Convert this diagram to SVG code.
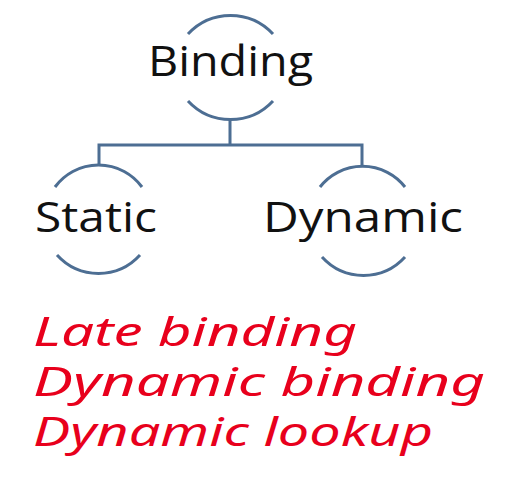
<svg xmlns="http://www.w3.org/2000/svg" width="505" height="489" viewBox="0 0 505 489">
<style>
.arc{fill:none;stroke:#4d6e93;stroke-width:3;stroke-linecap:butt}
.con{fill:none;stroke:#4d6e93;stroke-width:3}
.lbl{font-family:"Open Sans","Liberation Sans",sans-serif;font-size:42px;fill:#111}
.red{font-family:"Noto Sans","DejaVu Sans",sans-serif;font-style:italic;font-size:40px;fill:#e8001c}
</style>
<rect width="505" height="489" fill="#fff"/>
<g id="connectors">
<path class="con" d="M230,118 V145 M99,145 H362 M99,143.5 V166 M362,143.5 V166"/>
</g>
<g id="binding">
<path class="arc" d="M188,34 A58 58 0 0 1 273,34"/>
<path class="arc" d="M188,101 A58 58 0 0 0 273,101"/>
<text class="lbl" x="148" y="76" textLength="165" lengthAdjust="spacingAndGlyphs">Binding</text>
</g>
<g id="static">
<path class="arc" d="M55,187 A54 54 0 0 1 142,187"/>
<path class="arc" d="M57,255 A56 56 0 0 0 140,255"/>
<text class="lbl" x="35" y="232" textLength="122" lengthAdjust="spacingAndGlyphs">Static</text>
</g>
<g id="dynamic">
<path class="arc" d="M320,187 A54 54 0 0 1 405,187"/>
<path class="arc" d="M322,257 A56 56 0 0 0 405,257"/>
<text class="lbl" x="263" y="232" textLength="200" lengthAdjust="spacingAndGlyphs">Dynamic</text>
</g>
<g id="notes">
<text class="red" x="33" y="346" textLength="324" lengthAdjust="spacingAndGlyphs">Late binding</text>
<text class="red" x="33" y="396" textLength="452" lengthAdjust="spacingAndGlyphs">Dynamic binding</text>
<text class="red" x="33" y="446" textLength="400" lengthAdjust="spacingAndGlyphs">Dynamic lookup</text>
</g>
</svg>
